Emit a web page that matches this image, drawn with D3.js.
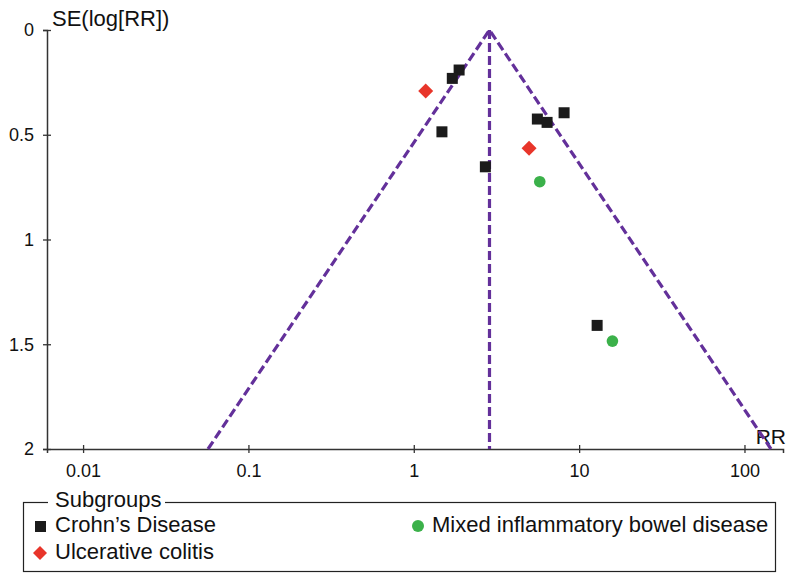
<!DOCTYPE html>
<html><head><meta charset="utf-8">
<script src="https://cdn.jsdelivr.net/npm/d3@7"></script>
<style>body{margin:0;background:#fff}svg{display:block;font-family:"Liberation Sans",Arial,sans-serif}</style>
</head><body>
<svg id="c" width="795" height="582"></svg>
<script>
// Data
const crohnRR = [1.88, 1.71, 1.48, 5.59, 6.40, 8.11, 2.71, 12.85];
const crohnSE = [0.191, 0.231, 0.486, 0.425, 0.441, 0.395, 0.653, 1.41];
const ucRR = [1.18, 4.98];
const ucSE = [0.291, 0.565];
const mixedRR = [5.78, 15.9];
const mixedSE = [0.724, 1.485];
const pooledRR = 2.87;
const xTicks = [0.01, 0.1, 1, 10, 100];
const xTickLabels = ["0.01", "0.1", "1", "10", "100"];
const yTicks = [0, 0.5, 1, 1.5, 2];
const yTickLabels = ["0", "0.5", "1", "1.5", "2"];
const legendLabels = ["Crohn\u2019s Disease", "Mixed inflammatory bowel disease", "Ulcerative colitis"];

const svg = d3.select("#c");
const x = d3.scaleLog().domain([0.00605, 171]).range([47, 783]);
const y = d3.scaleLinear().domain([0, 2]).range([30, 449]);
const axisColor = "#333";
const purple = "#63309a";

// Y axis
const yAxis = svg.append("g").attr("transform", `translate(${x.range()[0]},0)`)
  .call(d3.axisLeft(y).tickValues(yTicks).tickFormat((d,i)=>yTickLabels[i]).tickSizeOuter(0).tickSize(4).tickPadding(10));
yAxis.select(".domain").attr("stroke", axisColor).attr("stroke-width", 1.5);
yAxis.selectAll(".tick line").attr("stroke", axisColor).attr("x2", -4).attr("x1", 4).attr("stroke-width", 1.3);
yAxis.selectAll(".tick text").attr("font-size", 18).attr("fill", "#111").attr("x", -13);

// X axis
const xAxis = svg.append("g").attr("transform", `translate(0,${y.range()[1]})`)
  .call(d3.axisBottom(x).tickValues(xTicks).tickFormat((d,i)=>xTickLabels[i]).tickSizeOuter(0).tickSize(4).tickPadding(10));
xAxis.select(".domain").attr("stroke", axisColor).attr("stroke-width", 1.5);
xAxis.selectAll(".tick line").attr("stroke", axisColor).attr("y1", -4).attr("y2", 4).attr("stroke-width", 1.3);
xAxis.selectAll(".tick text").attr("font-size", 18).attr("fill", "#111").attr("y", 15);

// Axis titles
svg.append("text").attr("x", 52).attr("y", 26).attr("font-size", 22).attr("fill", "#111").text("SE(log[RR])");
svg.append("text").attr("x", 786).attr("y", 444).attr("text-anchor", "end").attr("font-size", 21).attr("fill", "#111").text("RR");

// Funnel
const z = 1.96, seMax = 2;
const funnel = [[pooledRR * Math.exp(-z*seMax), seMax], [pooledRR, 0], [pooledRR * Math.exp(z*seMax), seMax]];
svg.append("path").attr("d", d3.line().x(d=>x(d[0])).y(d=>y(d[1]))(funnel))
  .attr("fill", "none").attr("stroke", purple).attr("stroke-width", 3.2).attr("stroke-dasharray", "9,4");
svg.append("line").attr("x1", x(pooledRR)).attr("x2", x(pooledRR)).attr("y1", y(0)).attr("y2", y(seMax))
  .attr("stroke", purple).attr("stroke-width", 3.2).attr("stroke-dasharray", "9,4");

// Points
const sq = 11;
svg.append("g").selectAll("rect").data(crohnRR).join("rect")
  .attr("x", (d,i)=>x(d)-sq/2).attr("y", (d,i)=>y(crohnSE[i])-sq/2).attr("width", sq).attr("height", sq).attr("fill", "#1b1b1b");
const dm = 7.5;
svg.append("g").selectAll("path").data(ucRR).join("path")
  .attr("transform", (d,i)=>`translate(${x(d)},${y(ucSE[i])})`)
  .attr("d", `M0,${-dm}L${dm},0L0,${dm}L${-dm},0Z`).attr("fill", "#e8352a");
svg.append("g").selectAll("circle").data(mixedRR).join("circle")
  .attr("cx", d=>x(d)).attr("cy", (d,i)=>y(mixedSE[i])).attr("r", 5.8).attr("fill", "#3bb14a");

// Legend
const lg = svg.append("g");
lg.append("rect").attr("x", 23.5).attr("y", 502.5).attr("width", 752).attr("height", 69).attr("fill", "none").attr("stroke", "#222").attr("stroke-width", 1.2);
lg.append("rect").attr("x", 48).attr("y", 494).attr("width", 117).attr("height", 16).attr("fill", "#fff");
lg.append("text").attr("x", 55).attr("y", 507).attr("font-size", 22).attr("fill", "#111").text("Subgroups");
lg.append("rect").attr("x", 35).attr("y", 521).attr("width", 11).attr("height", 11).attr("fill", "#1b1b1b");
lg.append("text").attr("x", 55).attr("y", 532).attr("font-size", 22).attr("fill", "#111").text(legendLabels[0]);
lg.append("circle").attr("cx", 418).attr("cy", 526).attr("r", 6).attr("fill", "#3bb14a");
lg.append("text").attr("x", 432).attr("y", 532).attr("font-size", 22).attr("fill", "#111").text(legendLabels[1]);
lg.append("path").attr("transform", "translate(40,553)").attr("d", "M0,-7L7,0L0,7L-7,0Z").attr("fill", "#e8352a");
lg.append("text").attr("x", 55).attr("y", 559).attr("font-size", 22).attr("fill", "#111").text(legendLabels[2]);
</script>
</body></html>
